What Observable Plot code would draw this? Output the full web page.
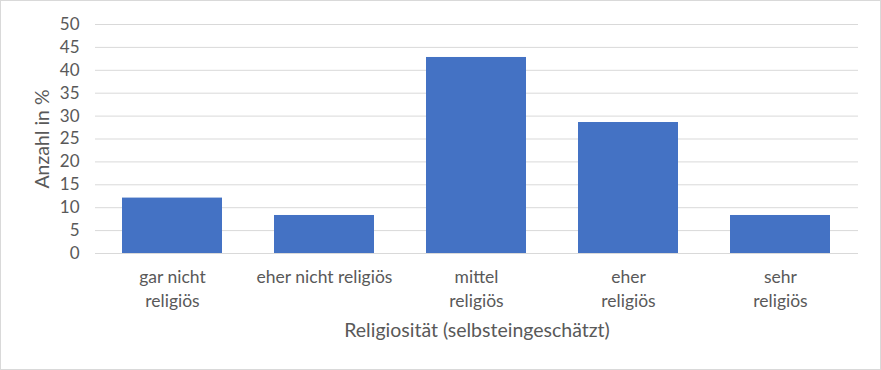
<!DOCTYPE html>
<html>
<head>
<meta charset="utf-8">
<script src="https://cdn.jsdelivr.net/npm/d3@7"></script>
<script src="https://cdn.jsdelivr.net/npm/@observablehq/plot@0.6"></script>
<style>
  body { margin: 0; background: #fff; }
  #chart svg { display: block; outline: 1px solid #d9d9d9; outline-offset: -1px; }
</style>
</head>
<body>
<div id="chart"></div>
<script>
const categories = ["gar nicht\nreligiös", "eher nicht religiös", "mittel\nreligiös", "eher\nreligiös", "sehr\nreligiös"];
const values = [12.1, 8.3, 42.8, 28.6, 8.3];
const yTicks = [0, 5, 10, 15, 20, 25, 30, 35, 40, 45, 50];
const xTitle = "Religiosität (selbsteingeschätzt)";
const yTitle = "Anzahl in %";

const data = categories.map((c, i) => ({cat: c, value: values[i]}));
const font = "Lato, 'Open Sans', sans-serif";

const chart = Plot.plot({
  width: 881,
  height: 370,
  marginLeft: 95,
  marginRight: 23,
  marginTop: 24,
  marginBottom: 117,
  style: {fontFamily: font, fontSize: "17px", color: "#595959", background: "#fff"},
  x: {domain: categories, paddingInner: 0.34, paddingOuter: 0.17},
  y: {domain: [0, 50]},
  marks: [
    Plot.gridY(yTicks, {stroke: "#d9d9d9", strokeOpacity: 1, strokeWidth: 1}),
    Plot.barY(data, {x: "cat", y: "value", fill: "#4472c4"}),
    Plot.axisY(yTicks, {tickSize: 0, tickPadding: 16, fontSize: 17, fill: "#595959", label: null}),
    Plot.axisX({tickSize: 0, tickPadding: 12, fontSize: 17.5, fill: "#595959", lineHeight: 1.38, label: null}),
    Plot.text([yTitle], {frameAnchor: "left", textAnchor: "middle", dx: -53, rotate: -90, fontSize: 19.5, fill: "#595959", text: d => d}),
    Plot.text([xTitle], {frameAnchor: "bottom", dy: 83, fontSize: 19.5, fill: "#595959", text: d => d})
  ]
});
document.getElementById("chart").appendChild(chart);
</script>
</body>
</html>
